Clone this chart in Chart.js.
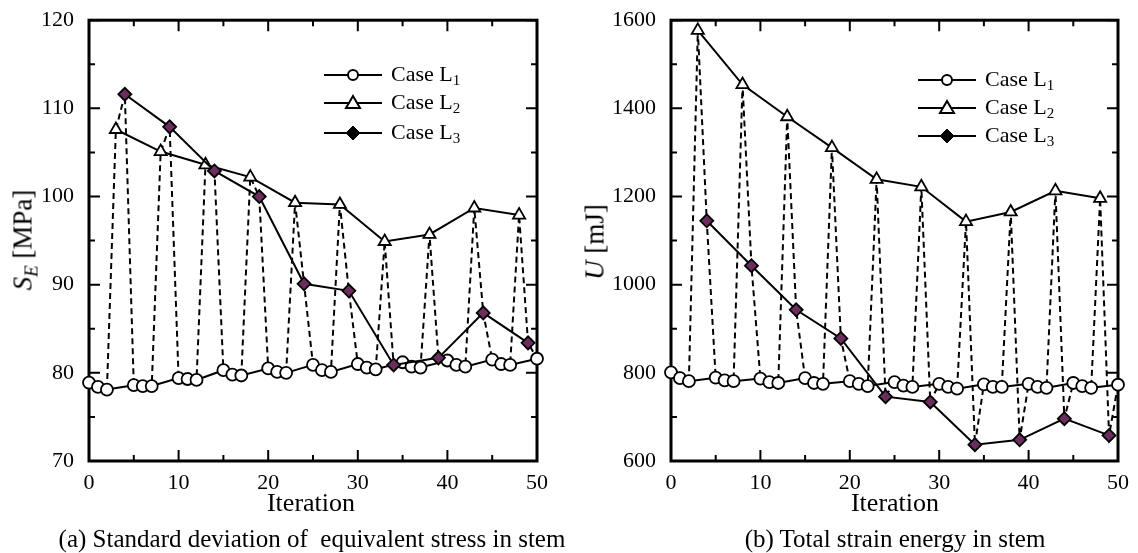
<!DOCTYPE html>
<html>
<head>
<meta charset="utf-8">
<script src="https://cdn.jsdelivr.net/npm/chart.js@4"></script>
<style>
  body { margin: 0; width: 1138px; height: 553px; background: #fff; position: relative; overflow: hidden;
         font-family: "Liberation Serif", "Times New Roman", serif; color: #000; }
  canvas { position: absolute; top: 0; }
  .lbl { position: absolute; white-space: nowrap; transform: translate(-50%, -50%); line-height: 1; }
  .ytitle { font-size: 27px; transform: translate(-50%, -50%) rotate(-90deg); }
  .xtitle { font-size: 26px; }
  .caption { font-size: 25px; }
  .leg { position: absolute; font-size: 22px; white-space: nowrap; line-height: 1; transform: translateY(-50%); }
  .leg sub { font-size: 15px; vertical-align: -4px; }
  .sym { position: absolute; }
  .ytitle sub { font-size: 19px; vertical-align: -6px; }
</style>
</head>
<body>
<canvas id="stress" width="569" height="553" style="left:0"></canvas>
<canvas id="energy" width="569" height="553" style="left:569px"></canvas>

<div class="lbl ytitle" style="left:25px; top:240px"><i>S</i><sub><i>E</i></sub> [MPa]</div>
<div class="lbl ytitle" style="left:595px; top:242px"><i>U</i> [mJ]</div>
<div class="lbl xtitle" style="left:311px; top:503px">Iteration</div>
<div class="lbl xtitle" style="left:895px; top:503px">Iteration</div>
<div class="lbl caption" style="left:312px; top:538px">(a) Standard deviation of &nbsp;equivalent stress in stem</div>
<div class="lbl caption" style="left:895px; top:538px">(b) Total strain energy in stem</div>

<div id="legends"></div>

<script>
// iteration numbers at which each load case was evaluated
const iterL1 = [0, 1, 2, 5, 6, 7, 10, 11, 12, 15, 16, 17, 20, 21, 22, 25, 26, 27, 30, 31, 32, 35, 36, 37, 40, 41, 42, 45, 46, 47, 50];
const iterL2 = [3, 8, 13, 18, 23, 28, 33, 38, 43, 48];
const iterL3 = [4, 9, 14, 19, 24, 29, 34, 39, 44, 49];

// (a) standard deviation of equivalent stress [MPa]
const stressL1 = [78.9, 78.4, 78.1, 78.6, 78.5, 78.5, 79.4, 79.3, 79.2, 80.3, 79.8, 79.7, 80.5, 80.1, 80.0,
                  80.9, 80.3, 80.1, 81.0, 80.6, 80.4, 81.2, 80.7, 80.6, 81.4, 80.9, 80.7, 81.5, 81.0, 80.9, 81.6];
const stressL2 = [107.6, 105.1, 103.6, 102.2, 99.3, 99.1, 94.9, 95.7, 98.7, 97.9];
const stressL3 = [111.6, 107.9, 102.9, 100.0, 90.1, 89.3, 80.9, 81.7, 86.8, 83.4];

// (b) total strain energy [mJ]
const energyL1 = [801, 788, 781, 789, 783, 781, 787, 779, 777, 788, 777, 775, 781, 775, 770,
                  779, 771, 768, 775, 768, 764, 774, 768, 768, 775, 768, 766, 777, 770, 766, 773];
const energyL2 = [1577, 1454, 1381, 1311, 1239, 1222, 1143, 1165, 1213, 1196];
const energyL3 = [1145, 1043, 943, 878, 746, 734, 637, 648, 696, 658];

const caseLabels = ["Case L", "Case L", "Case L"];
const caseSubs = ["1", "2", "3"];

const L3_FILL = "#6b2d5e";

Chart.defaults.font.family = "'Liberation Serif', 'Times New Roman', serif";
Chart.defaults.color = "#000";

const toPoints = (iters, vals) => iters.map((x, i) => ({ x, y: vals[i] }));

// frame + inward ticks on all four sides
const frameTicks = {
    id: "frameTicks",
    beforeDatasetsDraw(chart, args, opts) {
        const { ctx, chartArea: a, scales: { x, y } } = chart;
        ctx.save();
        ctx.strokeStyle = "#000";
        ctx.lineWidth = 2;
        ctx.beginPath();
        for (let v = x.min; v <= x.max; v += opts.xMinor) {
            const px = x.getPixelForValue(v);
            const len = v % opts.xMajor === 0 ? 11 : 6;
            ctx.moveTo(px, a.bottom); ctx.lineTo(px, a.bottom - len);
            ctx.moveTo(px, a.top); ctx.lineTo(px, a.top + len);
        }
        for (let v = y.min; v <= y.max; v += opts.yMinor) {
            const py = y.getPixelForValue(v);
            const len = (v - y.min) % opts.yMajor === 0 ? 11 : 6;
            ctx.moveTo(a.left, py); ctx.lineTo(a.left + len, py);
            ctx.moveTo(a.right, py); ctx.lineTo(a.right - len, py);
        }
        ctx.stroke();
        ctx.lineWidth = 3;
        ctx.strokeRect(a.left, a.top, a.right - a.left, a.bottom - a.top);
        ctx.restore();
    }
};

const makeChart = (id, l1, l2, l3, yr, area) => {
    const s1 = toPoints(iterL1, l1);
    const s2 = toPoints(iterL2, l2);
    const s3 = toPoints(iterL3, l3);
    const path = [...s1, ...s2, ...s3].sort((a, b) => a.x - b.x);
    const solid = { showLine: true, borderColor: "#000", borderWidth: 2, clip: false, pointBorderColor: "#000", pointBorderWidth: 1.8 };
    return new Chart(document.getElementById(id), {
        type: "scatter",
        data: {
            datasets: [
                { data: path, showLine: true, borderColor: "#000", borderWidth: 2, borderDash: [6, 4], pointRadius: 0, order: 4, clip: false },
                { ...solid, data: s1, pointStyle: "circle", pointRadius: 6, pointBackgroundColor: "#fff", order: 3 },
                { ...solid, data: s2, pointStyle: "triangle", pointRadius: 7, pointBackgroundColor: "#fff", order: 2 },
                { ...solid, data: s3, pointStyle: "rectRot", pointRadius: 6.5, pointBackgroundColor: L3_FILL, order: 1 },
            ],
        },
        options: {
            responsive: false,
            animation: false,
            events: [],
            layout: { padding: { top: 19, right: area.right, bottom: 0, left: 0 } },
            plugins: {
                legend: { display: false },
                tooltip: { enabled: false },
                frameTicks: { xMajor: 10, xMinor: 5, yMajor: yr.step, yMinor: yr.step / 2 },
            },
            scales: {
                x: {
                    type: "linear", min: 0, max: 50,
                    grid: { display: false }, border: { display: false },
                    ticks: { stepSize: 10, font: { size: 22 }, padding: 1, maxRotation: 0, callback: v => String(v) },
                    afterFit: s => { s.height = 92; },
                },
                y: {
                    min: yr.min, max: yr.max,
                    grid: { display: false }, border: { display: false },
                    ticks: { stepSize: yr.step, font: { size: 22 }, padding: 7, callback: v => String(v) },
                    afterFit: s => { s.width = area.left; },
                },
            },
        },
        plugins: [frameTicks],
    });
};

makeChart("stress", stressL1, stressL2, stressL3, { min: 70, max: 120, step: 10 }, { left: 89, right: 32 });
makeChart("energy", energyL1, energyL2, energyL3, { min: 600, max: 1600, step: 200 }, { left: 102, right: 20 });

// legends: line with marker in the middle + label with subscript
const symbols = [
    '<circle cx="29" cy="10" r="5" fill="#fff" stroke="#000" stroke-width="2"/>',
    '<polygon points="29,3 36,15 22,15" fill="#fff" stroke="#000" stroke-width="2"/>',
    '<polygon points="29,3 36,10 29,17 22,10" fill="#000" stroke="#000" stroke-width="1"/>',
];
const legendSpots = [
    { x: 324, rows: [75, 103, 133] },
    { x: 918, rows: [80, 108, 136] },
];
const legendBox = document.getElementById("legends");
legendSpots.forEach(spot => {
    spot.rows.forEach((ry, k) => {
        legendBox.insertAdjacentHTML("beforeend",
            `<svg class="sym" width="60" height="20" style="left:${spot.x}px; top:${ry - 10}px">` +
            `<line x1="0" y1="10" x2="58" y2="10" stroke="#000" stroke-width="2"/>${symbols[k]}</svg>` +
            `<div class="leg" style="left:${spot.x + 67}px; top:${ry}px">${caseLabels[k]}<sub>${caseSubs[k]}</sub></div>`);
    });
});
</script>
</body>
</html>
